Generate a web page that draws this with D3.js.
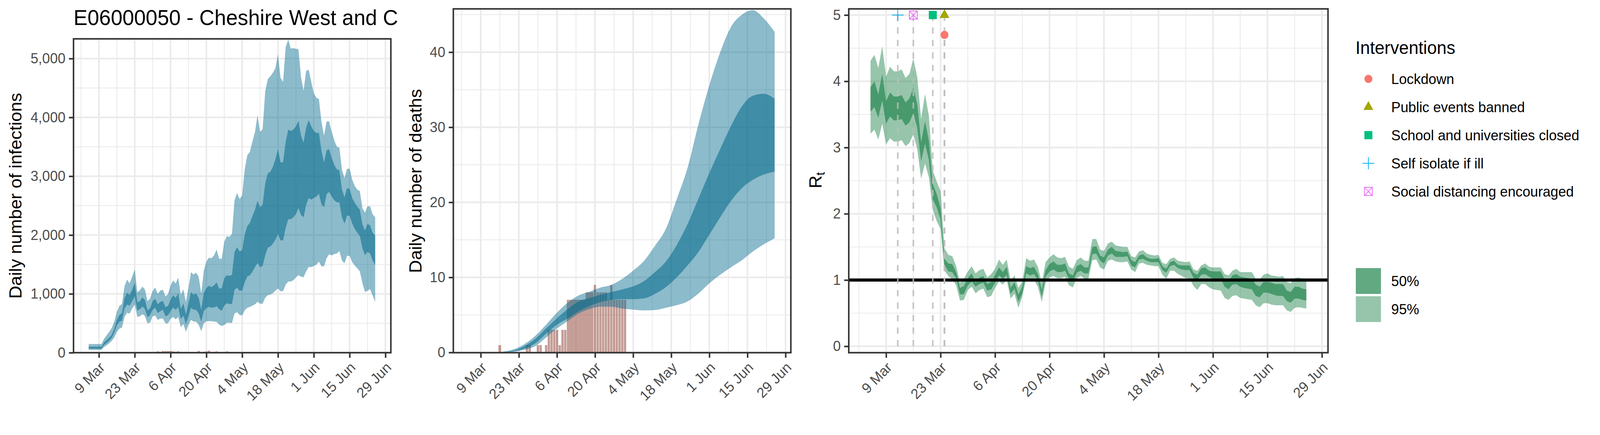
<!DOCTYPE html>
<html>
<head>
<meta charset="utf-8">
<script src="https://cdn.jsdelivr.net/npm/d3@7"></script>
<style>
  html, body { margin: 0; background: #fff; overflow: hidden; }
  text { font-family: "Liberation Sans", Arial, sans-serif; }
</style>
</head>
<body>
<div id="chart"></div>
<script>
const title = 'E06000050 - Cheshire West and C';
const tickDates = ['2020-03-09', '2020-03-23', '2020-04-06', '2020-04-20', '2020-05-04', '2020-05-18', '2020-06-01', '2020-06-15', '2020-06-29'];
const minorDates = ['2020-03-02', '2020-03-16', '2020-03-30', '2020-04-13', '2020-04-27', '2020-05-11', '2020-05-25', '2020-06-08', '2020-06-22'];

// daily model output, 5 Mar to 25 Jun
const infTop95 = [147, 147, 147, 147, 147, 147,
  237, 295, 353, 419, 530, 696, 796, 829,
  1129, 1244, 1177, 1295, 1417, 1029, 1062, 1124, 1073, 874,
  925, 1051, 1109, 1000, 1055, 1071, 956, 996, 1140, 1228,
  1177, 1279, 984, 1078, 863, 1106, 1368, 1328, 1361, 1288,
  1007, 1395, 1550, 1616, 1605, 1653, 1753, 1598, 1598, 1886,
  1981, 1970, 2020, 2588, 2716, 2612, 2672, 3115, 3354, 3414,
  3591, 3746, 4040, 3753, 3802, 4439, 4651, 4698, 4759, 4840,
  5075, 4675, 4604, 5193, 5325, 5170, 5178, 5165, 5160, 4688,
  4452, 4788, 4811, 4609, 4412, 4334, 4313, 3927, 3691, 3932,
  3932, 3757, 3612, 3502, 3487, 3114, 2970, 3127, 3127, 2944,
  2839, 2773, 2747, 2458, 2380, 2490, 2490, 2353, 2301];
const infTop50 = [102, 102, 102, 102, 102, 102,
  175, 215, 253, 304, 408, 552, 641, 674,
  929, 1018, 978, 1073, 1184, 858, 874, 940, 896, 718,
  756, 874, 918, 823, 863, 880, 774, 796, 896, 978,
  933, 1007, 741, 840, 652, 840, 1029, 984, 1007, 929,
  730, 1018, 1095, 1137, 1115, 1144, 1195, 1093, 1093, 1266,
  1317, 1306, 1321, 1709, 1793, 1720, 1746, 2008, 2152, 2207,
  2318, 2429, 2584, 2473, 2517, 2872, 3049, 3075, 3159, 3288,
  3459, 3237, 3237, 3580, 3791, 3770, 3791, 3849, 3940, 3691,
  3573, 3822, 3953, 3848, 3770, 3736, 3738, 3429, 3232, 3442,
  3460, 3311, 3193, 3119, 3101, 2773, 2642, 2800, 2781, 2629,
  2550, 2485, 2432, 2183, 2078, 2191, 2164, 2039, 1987];
const infBot50 = [67, 67, 67, 67, 67, 67,
  131, 164, 204, 253, 337, 464, 530, 541,
  752, 818, 800, 874, 962, 718, 741, 785, 741, 601,
  641, 730, 763, 674, 707, 730, 619, 636, 707, 769,
  730, 778, 574, 630, 486, 619, 763, 730, 730, 667,
  526, 707, 758, 778, 765, 770, 790, 740, 712, 800,
  840, 829, 829, 1066, 1104, 1051, 1060, 1199, 1295, 1317,
  1376, 1454, 1525, 1454, 1476, 1653, 1786, 1804, 1853, 1919,
  2019, 1908, 1912, 2118, 2269, 2270, 2301, 2353, 2458, 2340,
  2301, 2511, 2629, 2603, 2629, 2655, 2702, 2524, 2472, 2694,
  2734, 2655, 2590, 2558, 2558, 2301, 2196, 2332, 2327, 2201,
  2104, 2039, 1986, 1776, 1658, 1716, 1684, 1567, 1493];
const infBot95 = [47, 47, 47, 47, 47, 47,
  98, 124, 158, 202, 253, 353, 408, 426,
  608, 679, 663, 752, 818, 608, 619, 656, 619, 497,
  512, 619, 630, 557, 581, 581, 497, 497, 574, 608,
  568, 608, 435, 486, 353, 475, 557, 530, 526, 475,
  364, 497, 534, 536, 535, 530, 525, 480, 453, 470,
  510, 510, 505, 665, 688, 641, 632, 721, 763, 778,
  800, 822, 867, 833, 833, 933, 978, 989, 1011, 1055,
  1093, 1044, 1048, 1155, 1210, 1210, 1232, 1278, 1318, 1292,
  1283, 1382, 1456, 1454, 1475, 1496, 1548, 1470, 1470, 1606,
  1672, 1653, 1677, 1685, 1729, 1567, 1519, 1645, 1645, 1540,
  1483, 1435, 1383, 1184, 1033, 1052, 1080, 972, 863];

const rtTop95 = [4.31, 4.40, 4.20, 4.53, 4.07, 4.22, 4.15, 4.15, 4.18, 4.05, 4.11, 4.34, 4.07, 3.43, 3.81, 3.47, 2.65, 2.49, 2.34,
  1.48, 1.38, 1.36, 1.21, .96, 1.02, 1.13, 1.21, 1.10, 1.15, 1.17, 1.04, 1.09, 1.17, 1.31, 1.23, 1.31, 1.0, 1.07, .88,
  .98, 1.33, 1.29, 1.31, 1.20, .96, 1.27, 1.34, 1.39, 1.34, 1.33, 1.35, 1.20, 1.17, 1.30, 1.34, 1.29, 1.29,
  1.62, 1.62, 1.46, 1.44, 1.55, 1.58, 1.52, 1.51, 1.50, 1.50, 1.36, 1.34, 1.43, 1.45, 1.40, 1.38, 1.37, 1.38,
  1.26, 1.24, 1.32, 1.34, 1.29, 1.28, 1.27, 1.28, 1.16, 1.14, 1.22, 1.25, 1.20, 1.19, 1.19, 1.19,
  1.09, 1.07, 1.14, 1.17, 1.12, 1.12, 1.12, 1.12, 1.02, 1.01, 1.08, 1.10, 1.07, 1.06, 1.05, 1.06,
  .97, .95, 1.03, 1.04, 1.02, 1.02];
const rtTop50 = [3.91, 4.0, 3.80, 4.11, 3.70, 3.83, 3.77, 3.77, 3.79, 3.68, 3.74, 3.90, 3.66, 3.08, 3.40, 3.10, 2.45, 2.30, 2.08,
  1.32, 1.25, 1.24, 1.12, .88, .91, 1.03, 1.10, .96, 1.04, 1.06, .94, .97, 1.08, 1.19, 1.12, 1.20, .88, .97, .78,
  .90, 1.21, 1.18, 1.20, 1.09, .85, 1.15, 1.24, 1.28, 1.23, 1.23, 1.25, 1.10, 1.07, 1.21, 1.24, 1.19, 1.19,
  1.50, 1.51, 1.37, 1.34, 1.46, 1.50, 1.44, 1.43, 1.42, 1.43, 1.30, 1.27, 1.37, 1.39, 1.34, 1.32, 1.32, 1.33,
  1.21, 1.17, 1.27, 1.29, 1.23, 1.22, 1.22, 1.22, 1.11, 1.08, 1.18, 1.19, 1.14, 1.13, 1.13, 1.13,
  1.01, .98, 1.07, 1.09, 1.05, 1.04, 1.03, 1.02, .93, .90, .97, .97, .96, .94, .94, .94,
  .84, .82, .90, .90, .87, .86];
const rtBot50 = [3.54, 3.61, 3.45, 3.71, 3.36, 3.47, 3.41, 3.41, 3.43, 3.33, 3.38, 3.52, 3.30, 2.79, 3.06, 2.81, 2.22, 2.10, 1.92,
  1.23, 1.13, 1.12, 1.03, .78, .79, .92, .98, .90, .94, .96, .84, .86, .96, 1.07, 1.02, 1.08, .79, .87, .67,
  .80, 1.10, 1.07, 1.09, 1.0, .75, 1.05, 1.13, 1.16, 1.12, 1.12, 1.14, 1.02, .98, 1.11, 1.14, 1.10, 1.10,
  1.39, 1.40, 1.29, 1.25, 1.37, 1.40, 1.35, 1.35, 1.35, 1.36, 1.22, 1.19, 1.31, 1.32, 1.29, 1.27, 1.27, 1.27,
  1.15, 1.11, 1.21, 1.23, 1.18, 1.16, 1.15, 1.15, 1.03, 1.0, 1.08, 1.09, 1.05, 1.02, 1.02, 1.02,
  .90, .86, .93, .94, .90, .88, .87, .86, .76, .74, .81, .81, .79, .77, .76, .76,
  .68, .66, .72, .72, .70, .69];
const rtBot95 = [3.21, 3.27, 3.12, 3.36, 3.05, 3.14, 3.09, 3.09, 3.11, 3.02, 3.07, 3.20, 2.98, 2.53, 2.76, 2.55, 2.06, 1.89, 1.77,
  1.14, 1.06, 1.01, .92, .69, .70, .85, .90, .80, .85, .87, .74, .76, .88, .98, .93, 1.0, .72, .79, .58,
  .75, 1.02, .98, 1.0, .90, .67, .96, 1.04, 1.06, 1.03, 1.03, 1.05, .92, .89, 1.03, 1.06, 1.02, 1.02,
  1.30, 1.31, 1.19, 1.16, 1.29, 1.31, 1.28, 1.27, 1.27, 1.28, 1.16, 1.12, 1.25, 1.26, 1.23, 1.22, 1.21, 1.21,
  1.08, 1.02, 1.14, 1.14, 1.09, 1.06, 1.03, 1.02, .91, .85, .94, .94, .89, .86, .85, .84,
  .73, .70, .76, .77, .73, .72, .71, .70, .62, .59, .65, .65, .63, .62, .62, .62,
  .54, .52, .58, .59, .58, .57];

// deaths model is smooth, read every 4 days
const deathDates = ['2020-03-05', '2020-03-09', '2020-03-13', '2020-03-17', '2020-03-21', '2020-03-25', '2020-03-29', '2020-04-02', '2020-04-06', '2020-04-10',
  '2020-04-14', '2020-04-18', '2020-04-22', '2020-04-26', '2020-04-30', '2020-05-04', '2020-05-08', '2020-05-12', '2020-05-16', '2020-05-20',
  '2020-05-24', '2020-05-28', '2020-06-01', '2020-06-05', '2020-06-09', '2020-06-13', '2020-06-17', '2020-06-21', '2020-06-25'];
const deathTop95 = [0, 0, .01, .1, .4, 1.1, 2.2, 3.7, 5.3, 6.65, 7.6, 8.1, 8.65, 9.0, 9.8, 10.9, 12.2, 14.2, 16.45, 20.4, 24.6, 30.4, 35.6, 40.0, 43.4, 45.0, 45.6, 44.5, 42.7];
const deathTop50 = [0, 0, .005, .06, .25, .85, 1.8, 3.2, 4.55, 5.8, 6.8, 7.25, 7.7, 8.05, 8.4, 8.8, 9.5, 10.7, 12.1, 14.3, 17.1, 20.5, 23.9, 27.1, 30.2, 32.8, 34.2, 34.45, 33.8];
const deathBot50 = [0, 0, 0, .03, .15, .5, 1.2, 2.5, 3.7, 4.55, 5.5, 6.2, 6.7, 7.0, 7.1, 7.1, 7.2, 7.8, 8.7, 10.0, 11.6, 13.4, 15.7, 18.0, 20.2, 21.9, 23.0, 23.7, 24.1];
const deathBot95 = [0, 0, 0, .02, .1, .35, .85, 2, 3.2, 4.2, 5.2, 5.8, 6.1, 6.1, 5.85, 5.7, 5.6, 5.65, 5.95, 6.3, 6.8, 7.85, 9.2, 10.35, 11.35, 12.3, 13.45, 14.4, 15.2];

// reported counts (bars)
const caseDates = ['2020-03-29', '2020-03-30', '2020-03-31', '2020-04-01', '2020-04-02', '2020-04-03', '2020-04-04', '2020-04-05', '2020-04-06', '2020-04-07',
  '2020-04-08', '2020-04-09', '2020-04-10', '2020-04-11', '2020-04-12', '2020-04-13', '2020-04-14', '2020-04-15', '2020-04-16', '2020-04-17',
  '2020-04-18', '2020-04-19', '2020-04-20', '2020-04-21', '2020-04-22', '2020-04-23', '2020-04-24', '2020-04-25', '2020-04-26', '2020-04-27', '2020-04-28'];
const caseCounts = [6, 6, 6, 20, 18, 30, 30, 28, 28, 20, 18, 20, 18, 4, 15, 6, 6, 8, 12, 30, 8, 14, 22, 36, 10, 14, 20, 8, 4, 6, 24];
const reportedDates = ['2020-03-16', '2020-03-26', '2020-03-27', '2020-03-30', '2020-03-31', '2020-04-02', '2020-04-03', '2020-04-04', '2020-04-05', '2020-04-06',
  '2020-04-07', '2020-04-08', '2020-04-09', '2020-04-10', '2020-04-11', '2020-04-12', '2020-04-13', '2020-04-14', '2020-04-15', '2020-04-16',
  '2020-04-17', '2020-04-18', '2020-04-19', '2020-04-20', '2020-04-21', '2020-04-22', '2020-04-23', '2020-04-24', '2020-04-25', '2020-04-26',
  '2020-04-27', '2020-04-28', '2020-04-29', '2020-04-30', '2020-05-01'];
const reportedDeaths = [1, 1, 1, 1, 1, 1, 3, 3, 3, 3, 1, 3, 3, 7, 7, 7, 7, 7, 7, 7, 8, 8, 8, 9, 8, 8, 8, 8, 7, 9, 7, 7, 7, 7, 7];

const interventionNames = ['Lockdown', 'Public events banned', 'School and universities closed', 'Self isolate if ill', 'Social distancing encouraged'];
const interventionDates = ['2020-03-24', '2020-03-24', '2020-03-21', '2020-03-12', '2020-03-16'];
const interventionRt = [4.7, 5, 5, 5, 5];
const interventionColours = ['#F8766D', '#A3A500', '#00BF7D', '#00B0F6', '#E76BF3'];
const interventionShapes = ['circle', 'triangle', 'square', 'plus', 'boxx'];
const bandLabels = ['50%', '95%'];

const parse = d3.utcParse('%Y-%m-%d');
const tickAt = tickDates.map(parse);
const minorAt = minorDates.map(parse);
const start = parse('2020-03-05');
const days = infTop95.map((d, i) => d3.utcDay.offset(start, i));

const BLUE = '#00688B';
const GREEN = '#2E8B57';
const GRID = '#EBEBEB';
const DARK = '#333333';
const TICKTEXT = '#4D4D4D';
const SIZE_TICK = 36.7;
const SIZE_TITLE = 45.8;

// the browser caps the window below 4200 wide, so draw in 4200x1113 units and fit to it
const svg = d3.select('#chart').append('svg')
  .attr('width', window.innerWidth)
  .attr('height', window.innerHeight)
  .attr('viewBox', '0 0 4200 1113')
  .attr('preserveAspectRatio', 'none')
  .style('display', 'block');

svg.append('rect').attr('width', 4200).attr('height', 1113).attr('fill', '#fff');

// one ggplot style panel: grid first, then whatever draw() adds, border and axes on top
const panel = (opt, draw) => {
  const {left, right, top, bottom, xRange, yZero, yMax, yMaxAt, yTicks, yMinor} = opt;
  const x = d3.scaleUtc().domain([tickAt[0], tickAt[tickAt.length - 1]]).range(xRange);
  const y = d3.scaleLinear().domain([0, yMax]).range([yZero, yMaxAt]);
  const g = svg.append('g');

  const grid = g.append('g').attr('stroke', GRID);
  grid.selectAll('.xminor').data(minorAt).join('line')
    .attr('x1', d => x(d)).attr('x2', d => x(d)).attr('y1', top).attr('y2', bottom).attr('stroke-width', 2.2);
  grid.selectAll('.yminor').data(yMinor).join('line')
    .attr('x1', left).attr('x2', right).attr('y1', d => y(d)).attr('y2', d => y(d)).attr('stroke-width', 2.2);
  grid.selectAll('.xmajor').data(tickAt).join('line')
    .attr('x1', d => x(d)).attr('x2', d => x(d)).attr('y1', top).attr('y2', bottom).attr('stroke-width', 4.4);
  grid.selectAll('.ymajor').data(yTicks).join('line')
    .attr('x1', left).attr('x2', right).attr('y1', d => y(d)).attr('y2', d => y(d)).attr('stroke-width', 4.4);

  draw(g, x, y);

  g.append('rect')
    .attr('x', left).attr('y', top)
    .attr('width', right - left).attr('height', bottom - top)
    .attr('fill', 'none').attr('stroke', DARK).attr('stroke-width', 4);

  const xAxis = d3.axisBottom(x).tickValues(tickAt).tickSize(13).tickFormat(d3.utcFormat('%-d %b'));
  const xg = g.append('g').attr('transform', `translate(0, ${bottom})`).call(xAxis);
  xg.select('.domain').remove();
  xg.selectAll('line').attr('stroke', DARK).attr('stroke-width', 4);
  xg.selectAll('text')
    .attr('transform', `translate(17, 40) rotate(-45)`)
    .attr('x', 0).attr('y', 0).attr('dy', 0)
    .attr('text-anchor', 'end')
    .attr('font-family', '"Liberation Sans", Arial, sans-serif')
    .attr('font-size', SIZE_TICK).attr('fill', TICKTEXT);

  const yAxis = d3.axisLeft(y).tickValues(yTicks).tickSize(12).tickPadding(9).tickFormat(opt.yFormat || d3.format(','));
  const yg = g.append('g').attr('transform', `translate(${left}, 0)`).call(yAxis);
  yg.select('.domain').remove();
  yg.selectAll('line').attr('stroke', DARK).attr('stroke-width', 4);
  yg.selectAll('text')
    .attr('font-family', '"Liberation Sans", Arial, sans-serif')
    .attr('font-size', SIZE_TICK).attr('fill', TICKTEXT);
};

const band = (g, x, y, dates, lo, hi, colour, opacity, curve) => {
  const area = d3.area()
    .x((d, i) => x(dates[i]))
    .y0((d, i) => y(lo[i]))
    .y1((d, i) => y(hi[i]))
    .curve(curve || d3.curveLinear);
  g.append('path').datum(dates).attr('d', area).attr('fill', colour).attr('fill-opacity', opacity);
};

const bars = (g, x, y, dates, values, dayWidth) => {
  g.append('g').attr('shape-rendering', 'crispEdges').selectAll('rect').data(values).join('rect')
    .attr('x', (d, i) => x(dates[i]) - dayWidth * 0.45)
    .attr('width', dayWidth * 0.9)
    .attr('y', d => y(d))
    .attr('height', d => y(0) - y(d))
    .attr('fill', '#8B3E2F').attr('fill-opacity', 0.5);
};

const yTitle = (xPos, yPos, txt) => svg.append('text')
  .attr('transform', `translate(${xPos}, ${yPos}) rotate(-90)`)
  .attr('text-anchor', 'middle')
  .attr('font-size', SIZE_TITLE)
  .attr('fill', '#000')
  .text(txt);

const shape = (g, kind, cx, cy, colour) => {
  if (kind === 'plus') {
    g.append('path').attr('d', `M${cx - 15.5},${cy}H${cx + 15.5}M${cx},${cy - 15.5}V${cy + 15.5}`)
      .attr('stroke', colour).attr('stroke-width', 1.9).attr('fill', 'none');
  } else if (kind === 'boxx') {
    g.append('path').attr('d', `M${cx - 10.5},${cy - 10.5}H${cx + 10.5}V${cy + 10.5}H${cx - 10.5}ZL${cx + 10.5},${cy + 10.5}M${cx + 10.5},${cy - 10.5}L${cx - 10.5},${cy + 10.5}`)
      .attr('stroke', colour).attr('stroke-width', 1.9).attr('fill', 'none');
  } else {
    const types = {circle: d3.symbolCircle, triangle: d3.symbolTriangle, square: d3.symbolSquare};
    const sizes = {circle: 346, triangle: 293, square: 441};
    g.append('path').attr('d', d3.symbol().type(types[kind]).size(sizes[kind])())
      .attr('transform', `translate(${cx}, ${cy})`).attr('fill', colour);
  }
};

// infections
panel({
  left: 193, right: 1026, top: 99.4, bottom: 902.4,
  xRange: [259.7, 1011.7], yZero: 902.4, yMax: 5000, yMaxAt: 149.9,
  yTicks: [0, 1000, 2000, 3000, 4000, 5000],
  yMinor: [500, 1500, 2500, 3500, 4500]
}, (g, x, y) => {
  bars(g, x, y, caseDates.map(parse), caseCounts, 6.714);
  band(g, x, y, days, infBot95, infTop95, BLUE, 0.45);
  band(g, x, y, days, infBot50, infTop50, BLUE, 0.55);
});
yTitle(56, 501, 'Daily number of infections');

svg.append('text')
  .attr('x', 193).attr('y', 64)
  .attr('font-size', 55).attr('fill', '#000')
  .text(title);

// deaths
panel({
  left: 1190, right: 2076, top: 22.7, bottom: 902.4,
  xRange: [1262, 2062], yZero: 901.8, yMax: 40, yMaxAt: 133.5,
  yTicks: [0, 10, 20, 30, 40],
  yMinor: [5, 15, 25, 35, 45]
}, (g, x, y) => {
  const when = deathDates.map(parse);
  bars(g, x, y, reportedDates.map(parse), reportedDeaths, 7.143);
  band(g, x, y, when, deathBot95, deathTop95, BLUE, 0.45, d3.curveMonotoneX);
  band(g, x, y, when, deathBot50, deathTop50, BLUE, 0.55, d3.curveMonotoneX);
});
yTitle(1106, 463, 'Daily number of deaths');

// Rt
panel({
  left: 2228, right: 3486, top: 22.7, bottom: 902.4,
  xRange: [2326, 3470], yZero: 886, yMax: 5, yMaxAt: 38.5,
  yTicks: [0, 1, 2, 3, 4, 5],
  yMinor: [0.5, 1.5, 2.5, 3.5, 4.5],
  yFormat: d3.format('d')
}, (g, x, y) => {
  band(g, x, y, days, rtBot95, rtTop95, GREEN, 0.5);
  band(g, x, y, days, rtBot50, rtTop50, GREEN, 0.75);

  g.append('line')
    .attr('x1', 2228).attr('x2', 3486)
    .attr('y1', y(1)).attr('y2', y(1))
    .attr('stroke', '#000').attr('stroke-width', 8);

  interventionDates.forEach((d, i) => {
    const when = parse(d);
    g.append('line')
      .attr('x1', x(when)).attr('x2', x(when))
      .attr('y1', y(0)).attr('y2', y(interventionRt[i]))
      .attr('stroke', '#BCBCBC').attr('stroke-opacity', 0.82)
      .attr('stroke-width', 4.4).attr('stroke-dasharray', '16 16');
  });
  interventionDates.forEach((d, i) => {
    shape(g, interventionShapes[i], x(parse(d)), y(interventionRt[i]), interventionColours[i]);
  });
});

const rtLabel = svg.append('text')
  .attr('transform', 'translate(2156, 461) rotate(-90)')
  .attr('text-anchor', 'middle')
  .attr('font-size', SIZE_TITLE)
  .attr('fill', '#000');
rtLabel.append('tspan').text('R');
rtLabel.append('tspan').attr('font-size', 32).attr('dy', 9).text('t');

// legends
const legend = svg.append('g');
legend.append('text')
  .attr('x', 3558).attr('y', 137.8)
  .attr('font-size', SIZE_TITLE).attr('fill', '#000')
  .text('Interventions');

interventionNames.forEach((name, i) => {
  const cy = 201.8 + i * 72;
  shape(legend, interventionShapes[i], 3592, cy, interventionColours[i]);
  legend.append('text')
    .attr('x', 3652).attr('y', cy).attr('dy', '0.35em')
    .attr('font-size', SIZE_TICK).attr('fill', '#000')
    .text(name);
});

bandLabels.forEach((name, i) => {
  const cy = 719 + i * 72;
  legend.append('rect')
    .attr('x', 3559).attr('y', cy - 33)
    .attr('width', 66).attr('height', 66)
    .attr('fill', GREEN).attr('fill-opacity', i === 0 ? 0.75 : 0.5);
  legend.append('text')
    .attr('x', 3652).attr('y', cy).attr('dy', '0.35em')
    .attr('font-size', SIZE_TICK).attr('fill', '#000')
    .text(name);
});
</script>
</body>
</html>
